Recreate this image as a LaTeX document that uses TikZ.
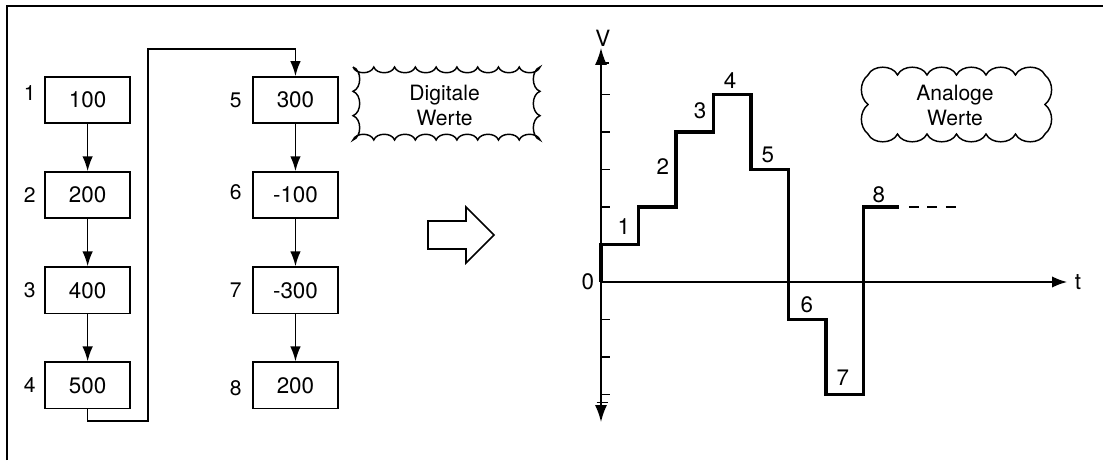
\documentclass[tikz,border=0pt]{standalone}
\usepackage{fontspec}
\setmainfont{TeX Gyre Heros}
\usetikzlibrary{positioning, arrows.meta}

\begin{document}
\begin{tikzpicture}
  \tikzstyle{valbox} = [draw, rectangle, line width=1.3pt, minimum width=2.27cm, minimum height=1.23cm, inner sep=0pt, font=\fontsize{17}{19}\selectfont]
  \tikzstyle{idx} = [inner sep=0pt, font=\fontsize{16}{18}\selectfont]
  \tikzstyle{link} = [line width=1.3pt, -{Latex[length=0.4cm, width=0.28cm]}]
  \tikzstyle{axis} = [line width=1.2pt, {Latex[length=0.45cm, width=0.32cm]}-{Latex[length=0.45cm, width=0.32cm]}]
  \tikzstyle{tick} = [line width=1pt]
  \tikzstyle{steps} = [line width=2.4pt, line join=miter]
  \tikzstyle{lvl} = [inner sep=0pt, font=\fontsize{17}{19}\selectfont]
  \tikzstyle{cloudtext} = [align=center, inner sep=0pt, font=\fontsize{16}{19}\selectfont]

  \useasboundingbox (-16.027,-4.747) rectangle (13.387,7.52);
  % frame
  \draw[line width=1.1pt] (-15.84,-4.747) -- (-15.84,7.36) -- (13.387,7.36);

  % digital values
  \node[valbox] (b1) at (-13.69,4.85) {100};
  \node[valbox, below=1.26cm of b1] (b2) {200};
  \node[valbox, below=1.26cm of b2] (b3) {400};
  \node[valbox, below=1.26cm of b3] (b4) {500};
  \node[valbox, right=3.227cm of b1] (b5) {300};
  \node[valbox, below=1.26cm of b5] (b6) {-100};
  \node[valbox, below=1.26cm of b6] (b7) {-300};
  \node[valbox, below=1.26cm of b7] (b8) {200};

  \node[idx, left=0.22cm of b1, yshift=0.18cm] (n1) {1};
  \node[idx, left=0.22cm of b2] (n2) {2};
  \node[idx, left=0.22cm of b3] (n3) {3};
  \node[idx, left=0.22cm of b4] (n4) {4};
  \node[idx, left=0.27cm of b5] (n5) {5};
  \node[idx, left=0.27cm of b6, yshift=0.09cm] (n6) {6};
  \node[idx, left=0.27cm of b7] (n7) {7};
  \node[idx, left=0.27cm of b8, yshift=-0.08cm] (n8) {8};

  \draw[link] (b1) -- (b2);
  \draw[link] (b2) -- (b3);
  \draw[link] (b3) -- (b4);
  \draw[link] (b5) -- (b6);
  \draw[link] (b6) -- (b7);
  \draw[link] (b7) -- (b8);

  \coordinate (lowturn) at (-12.08,-3.707);
  \coordinate (highturn) at (-12.08,6.213);
  \draw[link] (b4.south) |- (lowturn) -- (highturn) -| (b5.north);

  % digital cloud
  \draw[line width=1.1pt] (-6.613,5.733)
    \foreach \i in {1,...,9} { to[bend right=70] ++(0.5541,0) }
    \foreach \i in {1,2,3} { to[bend right=70] ++(0,-0.6487) }
    \foreach \i in {1,...,9} { to[bend right=70] ++(-0.5541,0) }
    \foreach \i in {1,2,3} { to[bend right=70] ++(0,0.6487) };
  \node[cloudtext] (digital) at (-4.17,4.72) {Digitale\\Werte};

  % conversion arrow
  \draw[line width=1.2pt] (-4.613,1.627) -- (-3.6,1.627) -- (-3.6,2.0) -- (-2.853,1.253)
    -- (-3.6,0.507) -- (-3.6,0.88) -- (-4.613,0.88) -- cycle;

  % analog graph
  \coordinate (vbot) at (0,-3.733);
  \coordinate (vtop) at (0,6.24);
  \coordinate (orig) at (0,0);
  \coordinate (tend) at (12.43,0);
  \draw[axis] (vbot) -- (vtop);
  \draw[line width=1.2pt, -{Latex[length=0.4cm, width=0.3cm]}] (orig) -- (tend);
  \foreach \y in {-3,-2,-1,1,2,3,4,5}
    \draw[tick] (0,\y) -- (0.25,\y);
  \draw[tick] (0,5.84) -- (0.22,5.84);
  \draw[tick] (-0.12,-3.22) -- (0.19,-3.22);

  \node[lvl] (vlab) at (0.05,6.5) {V};
  \node[lvl] (tlab) at (12.72,0) {t};
  \node[lvl] (zero) at (-0.35,0) {0};

  \draw[steps] (0,0) -- (0,1) -| (1,2) -| (2,4) -| (3,5) -| (4,3) -| (5,-1) -| (6,-3) -| (7,2) -- (7.95,2);
  \draw[line width=1.1pt, dash pattern=on 0.267cm off 0.227cm] (8.21,2) -- (9.47,2);

  \node[lvl] (s1) at (0.61,1.47) {1};
  \node[lvl] (s2) at (1.65,3.07) {2};
  \node[lvl] (s3) at (2.64,4.56) {3};
  \node[lvl] (s4) at (3.44,5.36) {4};
  \node[lvl] (s5) at (4.45,3.39) {5};
  \node[lvl] (s6) at (5.49,-0.61) {6};
  \node[lvl] (s7) at (6.45,-2.56) {7};
  \node[lvl] (s8) at (7.41,2.32) {8};

  % analog cloud
  \draw[line width=1.1pt] (7.12,5.52)
    \foreach \i in {1,...,6} { to[bend left=65] ++(0.7867,0) }
    \foreach \i in {1,2} { to[bend left=50] ++(0,-0.7867) }
    \foreach \i in {1,...,6} { to[bend left=65] ++(-0.7867,0) }
    \foreach \i in {1,2} { to[bend left=50] ++(0,0.7867) };
  \node[cloudtext] (analog) at (9.44,4.72) {Analoge\\Werte};
\end{tikzpicture}
\end{document}
